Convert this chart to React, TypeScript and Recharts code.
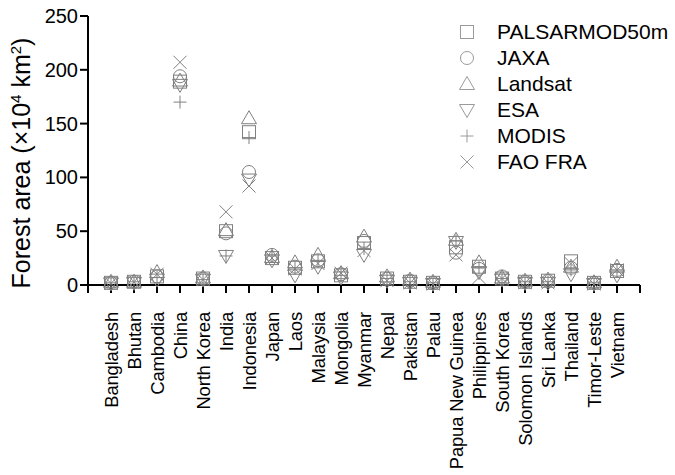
import React from 'react';
import { ScatterChart, Scatter, XAxis, YAxis, Legend } from 'recharts';

const categories = [
  'Bangladesh', 'Bhutan', 'Cambodia', 'China', 'North Korea', 'India', 'Indonesia',
  'Japan', 'Laos', 'Malaysia', 'Mongolia', 'Myanmar', 'Nepal', 'Pakistan', 'Palau',
  'Papua New Guinea', 'Philippines', 'South Korea', 'Solomon Islands', 'Sri Lanka',
  'Thailand', 'Timor-Leste', 'Vietnam',
];

const palsar = [2, 3, 8, 189, 6, 50, 142, 25, 16, 22, 9, 39, 6, 3, 2, 35, 17, 6, 3, 4, 22, 2, 13];
const jaxa = [2, 3, 8, 194, 6, 48, 105, 28, 17, 23, 10, 41, 6, 4, 2, 30, 15, 8, 3, 4, 16, 2, 14];
const landsat = [3, 3, 12, 190, 7, 51, 155, 26, 21, 28, 11, 45, 8, 5, 3, 42, 21, 7, 4, 5, 17, 2.5, 17];
const esa = [1.5, 2, 5, 186, 5, 27, 98, 23, 9, 17, 7, 28, 4, 2, 1, 40, 12, 5, 2, 2, 10, 1, 9];
const modis = [2, 3, 7, 170, 5, 27, 137, 27, 16, 22, 9, 34, 6, 3, 2, 41, 16, 6, 3, 3, 14, 2, 13];
const fao = [1.5, 3, 10, 207, 5, 68, 92, 25, 15, 20, 11, 32, 4, 2, 1, 28, 7, 6, 2, 2, 20, 1, 14];

const yTicks = [0, 50, 100, 150, 200, 250];
const xTicks = Array.from({ length: categories.length + 2 }, (_, i) => i);

const STROKE = '#808080';
const FONT = '"Liberation Sans", Arial, sans-serif';

type ShapeKind = 'square' | 'circle' | 'triangle' | 'triangleDown' | 'plus' | 'cross';

const Marker = ({ cx, cy, kind, color = STROKE }: { cx: number; cy: number; kind: ShapeKind; color?: string }) => {
  const s = 6.5;
  const common = { fill: 'none', stroke: color, strokeWidth: 1 };
  switch (kind) {
    case 'square':
      return <rect x={cx - s} y={cy - s} width={2 * s} height={2 * s} {...common} />;
    case 'circle':
      return <circle cx={cx} cy={cy} r={s} {...common} />;
    case 'triangle':
      return <polygon points={`${cx},${cy - 7.5} ${cx - 7.5},${cy + 5.5} ${cx + 7.5},${cy + 5.5}`} {...common} />;
    case 'triangleDown':
      return <polygon points={`${cx},${cy + 7.5} ${cx - 7.5},${cy - 5.5} ${cx + 7.5},${cy - 5.5}`} {...common} />;
    case 'plus':
      return (
        <g {...common}>
          <line x1={cx - s} y1={cy} x2={cx + s} y2={cy} />
          <line x1={cx} y1={cy - s} x2={cx} y2={cy + s} />
        </g>
      );
    case 'cross':
    default:
      return (
        <g {...common}>
          <line x1={cx - s} y1={cy - s} x2={cx + s} y2={cy + s} />
          <line x1={cx - s} y1={cy + s} x2={cx + s} y2={cy - s} />
        </g>
      );
  }
};

const series: { name: string; values: number[]; kind: ShapeKind }[] = [
  { name: 'PALSARMOD50m', values: palsar, kind: 'square' },
  { name: 'JAXA', values: jaxa, kind: 'circle' },
  { name: 'Landsat', values: landsat, kind: 'triangle' },
  { name: 'ESA', values: esa, kind: 'triangleDown' },
  { name: 'MODIS', values: modis, kind: 'plus' },
  { name: 'FAO FRA', values: fao, kind: 'cross' },
];

const XTick = (props: any) => {
  const { x, payload } = props;
  const label = categories[payload.value - 1];
  if (!label) return null;
  const y = 312;
  return (
    <text
      x={x}
      y={y}
      transform={`rotate(-90, ${x}, ${y})`}
      textAnchor="end"
      dominantBaseline="central"
      fontFamily={FONT}
      fontSize={18.5}
      letterSpacing={-0.2}
      fill="#000"
    >
      {label}
    </text>
  );
};

const YTick = (props: any) => {
  const { x, y, payload } = props;
  return (
    <text x={x} y={y} textAnchor="end" dominantBaseline="central" fontFamily={FONT} fontSize={20} fill="#000">
      {payload.value}
    </text>
  );
};

const YLabel = () => (
  <text transform="rotate(-90)" x={-163} y={30} textAnchor="middle" fontFamily={FONT} fontSize={25} fill="#000">
    Forest area (×10
    <tspan dy={-9} fontSize={15}>4</tspan>
    <tspan dy={9}> km</tspan>
    <tspan dy={-9} fontSize={15}>2</tspan>
    <tspan dy={9}>)</tspan>
  </text>
);

const LegendContent = () => (
  <div style={{ fontFamily: FONT, fontSize: 21, color: '#000' }}>
    {series.map((s) => (
      <div key={s.name} style={{ display: 'flex', alignItems: 'center', height: 26 }}>
        <svg width={24} height={26} style={{ marginRight: 18 }}>
          <Marker cx={12} cy={13} kind={s.kind} color="#9a9a9a" />
        </svg>
        <span style={{ lineHeight: '26px' }}>{s.name}</span>
      </div>
    ))}
  </div>
);

export default function App() {
  return (
    <div style={{ position: 'absolute', left: 0, top: 0, background: '#fff' }}>
      <ScatterChart width={675} height={475} margin={{ top: 16, right: 35, bottom: 10, left: 0 }}>
        <XAxis
          type="number"
          dataKey="x"
          domain={[0, categories.length + 1]}
          ticks={xTicks}
          interval={0}
          height={180}
          tick={<XTick />}
          tickSize={8}
          axisLine={{ stroke: '#000', strokeWidth: 2 }}
          tickLine={{ stroke: '#000', strokeWidth: 2 }}
          allowDataOverflow
        />
        <YAxis
          type="number"
          dataKey="y"
          domain={[0, 250]}
          ticks={yTicks}
          interval={0}
          width={88}
          tick={<YTick />}
          tickSize={8}
          axisLine={{ stroke: '#000', strokeWidth: 2 }}
          tickLine={{ stroke: '#000', strokeWidth: 2 }}
          label={<YLabel />}
        />
        <Legend
          layout="vertical"
          align="center"
          verticalAlign="middle"
          content={<LegendContent />}
          wrapperStyle={{ position: 'absolute', left: 455, top: 19, width: 220, height: 160 }}
        />
        {series.map((s) => (
          <Scatter
            key={s.name}
            name={s.name}
            data={s.values.map((v, i) => ({ x: i + 1, y: v }))}
            isAnimationActive={false}
            shape={(p: any) => <Marker cx={p.cx} cy={p.cy} kind={s.kind} />}
          />
        ))}
      </ScatterChart>
    </div>
  );
}
